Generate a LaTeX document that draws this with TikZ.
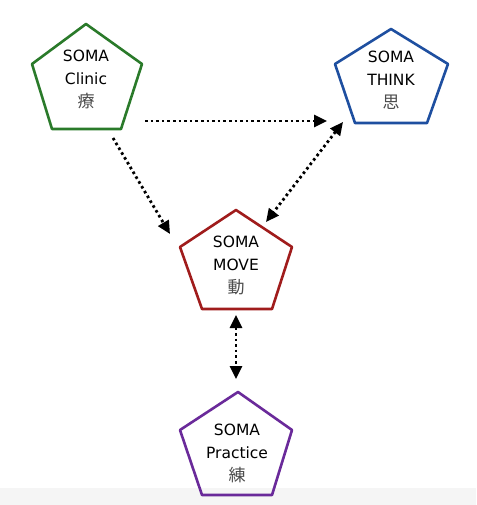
\documentclass[tikz,border=0pt]{standalone}
\usepackage{fontspec}
\setmainfont{DejaVu Sans}
\newfontfamily\cjkfont{Noto Sans CJK JP}
\usetikzlibrary{arrows.meta}
\definecolor{cgreen}{HTML}{2A7A2A}
\definecolor{cblue}{HTML}{1E4FA0}
\definecolor{cred}{HTML}{A01C1C}
\definecolor{cpurple}{HTML}{6A2A9A}
\newcommand{\kj}[1]{{\color{black!70}\cjkfont\fontsize{17}{23}\selectfont #1}}
\tikzset{
  pent/.style={line width=2.6pt, line join=round},
  lbl/.style={align=center, font=\fontsize{15.5}{23}\selectfont, text=black, inner sep=0pt},
  tipstyle/.style={},
  link/.style={line width=2.8pt, dash pattern=on 2.6pt off 3pt, -{Triangle[length=13pt,width=12pt]}},
  twolink/.style={line width=2.8pt, dash pattern=on 2.6pt off 3pt, {Triangle[length=13pt,width=12pt]}-{Triangle[length=13pt,width=12pt]}}
}
\begin{document}
\begin{tikzpicture}[x=1pt,y=-1pt]
\useasboundingbox (0,0) rectangle (476,505);
\fill[white] (0,0) rectangle (476,505);
\fill[black!4] (0,488) rectangle (476,505);
% pentagons
\draw[pent, cgreen] (86,24) -- (142,64) -- (121,129) -- (52,129) -- (32,64) -- cycle;
\draw[pent, cblue] (391,29) -- (448,64) -- (427,123) -- (355,123) -- (335,64) -- cycle;
\draw[pent, cred] (236,210) -- (292,247) -- (272,309) -- (202,309) -- (180,247) -- cycle;
\draw[pent, cpurple] (238,392) -- (292,430) -- (272,495) -- (202,495) -- (180,430) -- cycle;
% labels
\node[lbl] (clinic) at (86,79) {SOMA\\Clinic\\\kj{療}};
\node[lbl] (think) at (391,80) {SOMA\\THINK\\\kj{思}};
\node[lbl] (move) at (236,265) {SOMA\\MOVE\\\kj{動}};
\node[lbl] (practice) at (237,453) {SOMA\\Practice\\\kj{練}};
% connector ends
\coordinate (a1) at (145,121);
\coordinate (a2) at (327,121);
\coordinate (b1) at (113,138);
\coordinate (b2) at (170,234);
\coordinate (c1) at (343,122);
\coordinate (c2) at (266,222);
\coordinate (d1) at (236,315);
\coordinate (d2) at (236,379);
\draw[link] (a1) -- (a2);
\draw[link] (b1) -- (b2);
\draw[twolink] (c1) -- (c2);
\draw[twolink] (d1) -- (d2);
\end{tikzpicture}
\end{document}
